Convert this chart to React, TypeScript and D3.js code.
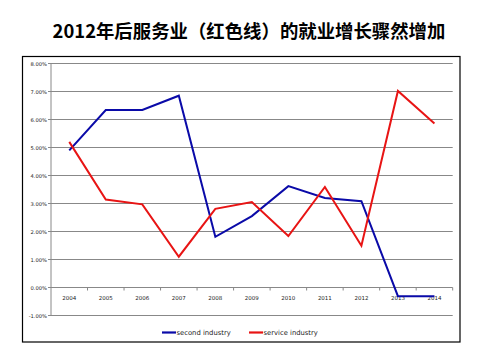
import React from "react";
import * as d3 from "d3";

const title = "2012年后服务业（红色线）的就业增长骤然增加";
const years = ["2004","2005","2006","2007","2008","2009","2010","2011","2012","2013","2014"];
const secondIndustry = [4.9, 6.34, 6.34, 6.85, 1.81, 2.55, 3.62, 3.2, 3.08, -0.31, -0.31];
const serviceIndustry = [5.2, 3.14, 2.97, 1.1, 2.81, 3.05, 1.84, 3.59, 1.49, 7.02, 5.86];
const yTicks = [-1, 0, 1, 2, 3, 4, 5, 6, 7, 8];
const seriesNames = ["second industry", "service industry"];

export default function App() {
  const W = 480, H = 360;
  const left = 51, right = 452.7, top = 63.5, bottom = 315.5;
  const x = d3.scaleBand<string>().domain(years).range([left, right]);
  const y = d3.scaleLinear().domain([-1, 8]).range([bottom, top]);
  const line = d3.line<number>()
    .x((_, i) => (x(years[i]) as number) + x.bandwidth() / 2)
    .y((d) => y(d));
  const colors = ["#0A0AA8", "#E81414"];
  const data = [secondIndustry, serviceIndustry];
  const y0 = y(0);
  return (
    <svg width={W} height={H} style={{ position: "absolute", left: 0, top: 0, background: "#fff" }}>
      <rect x={0} y={0} width={W} height={H} fill="#fff" />
      <text x={249} y={38} textAnchor="middle" fontFamily="'Noto Sans CJK SC'" fontWeight="bold" fontSize={18.4} fill="#000">{title}</text>
      <rect x={22.5} y={56.5} width={437.5} height={285.5} fill="none" stroke="#000" strokeWidth={1.2} />
      {yTicks.map((t) => (
        <g key={t}>
          <line x1={left} x2={right} y1={y(t)} y2={y(t)} stroke="#888" strokeWidth={1} />
          <line x1={left - 3} x2={left} y1={y(t)} y2={y(t)} stroke="#888" strokeWidth={1} />
          <text x={left - 4} y={y(t) + 2} textAnchor="end" fontFamily="'DejaVu Sans'" fontSize={5.2} fill="#222">{t.toFixed(2) + "%"}</text>
        </g>
      ))}
      <line x1={left} x2={left} y1={top} y2={bottom} stroke="#888" strokeWidth={1} />
      {years.map((yr) => (
        <g key={yr}>
          <line x1={(x(yr) as number) + x.bandwidth()} x2={(x(yr) as number) + x.bandwidth()} y1={y0} y2={y0 + 3} stroke="#888" strokeWidth={1} />
          <text x={(x(yr) as number) + x.bandwidth() / 2} y={y0 + 12.5} textAnchor="middle" fontFamily="'DejaVu Sans'" fontSize={5.5} fill="#222">{yr}</text>
        </g>
      ))}
      {data.map((d, i) => (
        <path key={i} d={line(d) || ""} fill="none" stroke={colors[i]} strokeWidth={2} strokeLinejoin="miter" />
      ))}
      <g>
        <line x1={162} x2={176} y1={332.5} y2={332.5} stroke={colors[0]} strokeWidth={2.2} />
        <text x={176.5} y={335} fontFamily="'DejaVu Sans'" fontSize={6.8} fill="#222">{seriesNames[0]}</text>
        <line x1={249} x2={263} y1={332.5} y2={332.5} stroke={colors[1]} strokeWidth={2.2} />
        <text x={263.5} y={335} fontFamily="'DejaVu Sans'" fontSize={6.8} fill="#222">{seriesNames[1]}</text>
      </g>
    </svg>
  );
}
